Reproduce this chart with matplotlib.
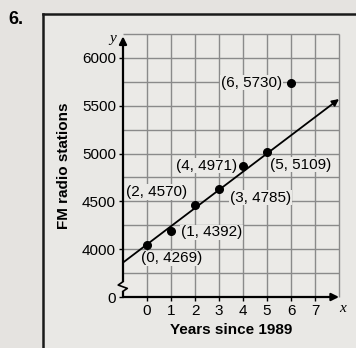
import matplotlib
matplotlib.use("Agg")
import matplotlib.pyplot as plt
from matplotlib.lines import Line2D
from matplotlib.patches import Rectangle
import numpy as np

# ---- data ----
years = [0, 1, 2, 3, 4, 5, 6]
stations = [4269, 4392, 4570, 4785, 4971, 5109, 5730]          # labelled values
dot_y = [4041, 4186, 4459, 4634, 4874, 5021, 5741]             # where dots are drawn in the picture
trend_slope = 190
trend_intercept = 4050
x_ticks = [0, 1, 2, 3, 4, 5, 6, 7]
y_ticks = [3500, 4000, 4500, 5000, 5500, 6000]
y_tick_labels = ["0", "4000", "4500", "5000", "5500", "6000"]
x_grid = [0, 1, 2, 3, 4, 5, 6, 7, 8]
y_grid = [3750, 4000, 4250, 4500, 4750, 5000, 5250, 5500, 5750, 6000, 6250]
# label offsets (points) and alignment
label_offsets = [(17.6, -9.4, 'center'), (7.2, -0.7, 'left'), (-5.8, 9.4, 'right'),
                 (7.9, -6.5, 'left'), (-4.0, 0.0, 'right'), (2.2, -9.4, 'left'),
                 (-6.5, 0.0, 'right')]

plt.rcParams['font.family'] = ['Liberation Sans', 'DejaVu Sans']

W, H = 356, 348
BG = '#e5e3e0'
INNER = '#e9e8e5'
PLOT_BG = '#ebeae7'
fig = plt.figure(figsize=(W / 100, H / 100), dpi=100)
fig.patch.set_facecolor(BG)

# frame
fig.add_artist(Rectangle((43 / W, 0), 1 - 43 / W, 1 - 14 / H, transform=fig.transFigure,
                         facecolor=INNER, edgecolor='none', zorder=0))
fig.add_artist(Line2D([43 / W, 43 / W], [0, 1 - 14 / H], transform=fig.transFigure,
                      color='#1a1a1a', lw=1.8))
fig.add_artist(Line2D([43 / W, 1], [1 - 14 / H, 1 - 14 / H], transform=fig.transFigure,
                      color='#1a1a1a', lw=1.8))
fig.text(8 / W, 1 - 20 / H, "6.", fontsize=13, fontweight='bold', va='center', ha='left')

ax = fig.add_axes([123 / W, 1 - 297 / H, 216 / W, 263 / H])
ax.set_facecolor(PLOT_BG)
ax.set_xlim(-1, 8)
ax.set_ylim(3500, 6250)
for s in ax.spines.values():
    s.set_visible(False)

# grid
ax.vlines(x_grid, 3500, 6250, colors='#8a8a8a', lw=1.0, zorder=1, clip_on=False)
ax.hlines(y_grid, -1, 8, colors='#8a8a8a', lw=1.0, zorder=1, clip_on=False)

# axes with arrows
ax.annotate('', xy=(8, 3500), xytext=(-1, 3500), annotation_clip=False,
            arrowprops=dict(arrowstyle='-|>', color='black', lw=1.6, mutation_scale=11,
                            shrinkA=0, shrinkB=0), zorder=5)
ax.annotate('', xy=(-1, 6225), xytext=(-1, 3500), annotation_clip=False,
            arrowprops=dict(arrowstyle='-|>', color='black', lw=1.6, mutation_scale=11,
                            shrinkA=0, shrinkB=0), zorder=5)
# axis break zigzag
ax.add_patch(Rectangle((-1.12, 3565), 0.24, 90, facecolor=PLOT_BG, edgecolor='none',
                       zorder=6, clip_on=False))
ax.plot([-1, -1.2, -0.82, -1], [3660, 3625, 3590, 3560], color='black', lw=1.2,
        zorder=7, clip_on=False)

# ticks
ax.set_xticks(x_ticks)
ax.set_xticklabels([str(v) for v in x_ticks])
ax.set_yticks(y_ticks)
ax.set_yticklabels(y_tick_labels)
ax.tick_params(axis='both', direction='out', length=3, width=1, labelsize=11, pad=2,
               color='black')

ax.text(8.0, 3500 - 12 / 24.2 * 250, "x", fontsize=11, style='italic',
        family='Liberation Serif', ha='left', va='center')
ax.text(-1.45, 6200, "y", fontsize=11, style='italic', family='Liberation Serif',
        ha='center', va='center')

ax.set_xlabel("Years since 1989", fontsize=11, fontweight='bold', labelpad=4)
ax.set_ylabel("FM radio stations", fontsize=11, fontweight='bold', labelpad=8)

# trend line with arrow
xs = np.array([-1, 8])
ys = trend_intercept + trend_slope * xs
ax.annotate('', xy=(xs[1], ys[1]), xytext=(xs[0], ys[0]), annotation_clip=False,
            arrowprops=dict(arrowstyle='-|>', color='black', lw=1.3, mutation_scale=10,
                            shrinkA=0, shrinkB=0), zorder=4)

# points
ax.plot(years, dot_y, 'o', color='black', ms=5.5, zorder=8)
for x, yd, yl, (dx, dy, ha) in zip(years, dot_y, stations, label_offsets):
    ax.annotate(f"({x}, {yl})", xy=(x, yd), xytext=(dx, dy), textcoords='offset points',
                ha=ha, va='center', fontsize=11, zorder=9,
                bbox=dict(boxstyle='square,pad=0.05', facecolor=PLOT_BG, edgecolor='none'))

fig.savefig("out.png", dpi=100, facecolor=BG)
